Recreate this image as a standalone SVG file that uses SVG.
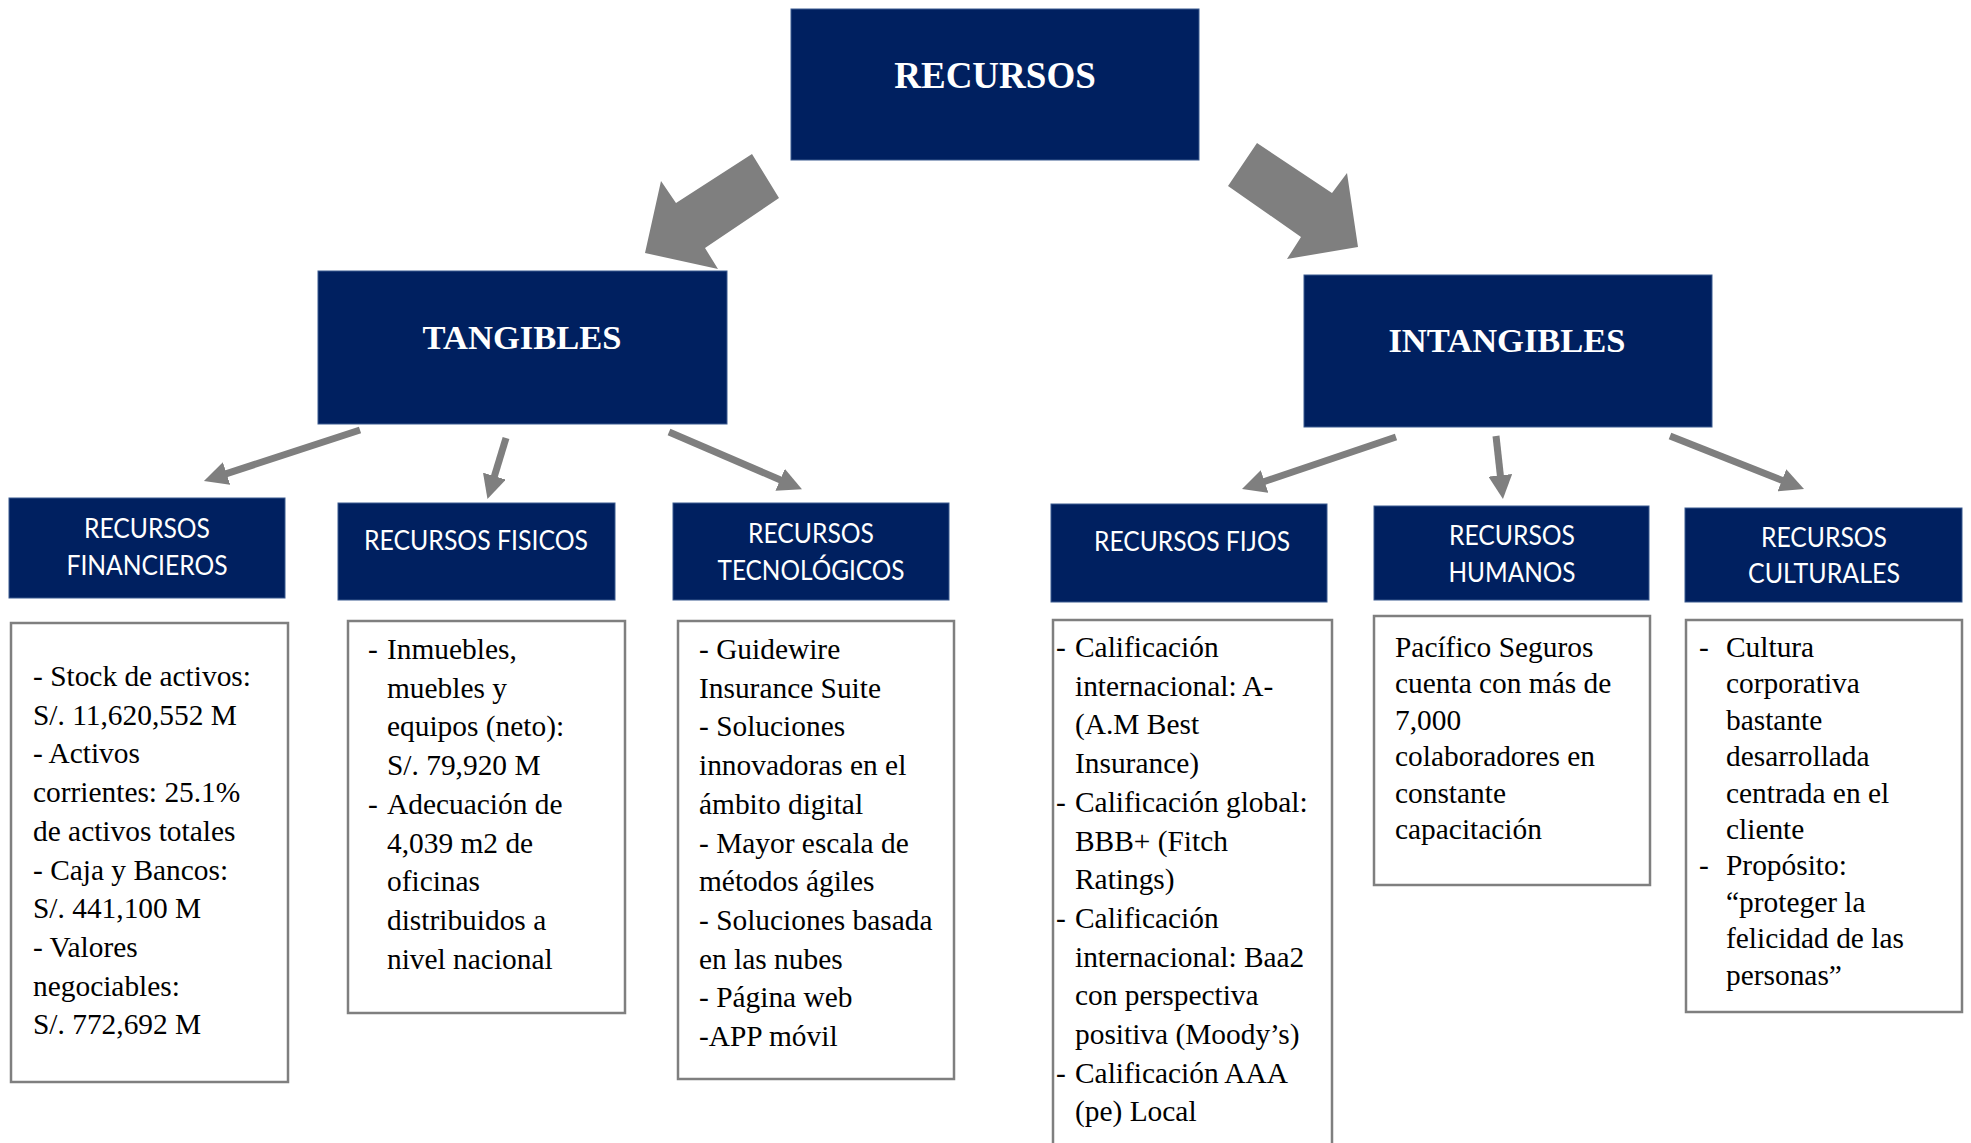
<svg xmlns="http://www.w3.org/2000/svg" width="1971" height="1143" viewBox="0 0 1971 1143">
<style>
.hdr{fill:#002060;stroke:#3a5a8f;stroke-width:1}
.ttl{font-family:"Liberation Serif","Times New Roman",serif;font-weight:bold;fill:#ffffff;text-anchor:middle}
.sub{font-family:Lato,"Open Sans",sans-serif;font-size:26px;fill:#ffffff;text-anchor:middle}
.box{fill:#ffffff;stroke:#7f7f7f;stroke-width:2.5}
.body{font-family:"Liberation Serif","Times New Roman",serif;font-size:29.4px;fill:#000000}
.big{fill:#7f7f7f}
.sm{stroke:#7f7f7f;stroke-width:7;fill:none;marker-end:url(#ah)}
</style>
<defs>
<marker id="ah" viewBox="0 0 10 10" markerWidth="3.4" markerHeight="3.4" refX="1" refY="5" orient="auto" markerUnits="strokeWidth">
<path d="M0,0 L10,5 L0,10 z" fill="#7f7f7f"/>
</marker>
</defs>
<rect width="1971" height="1143" fill="#ffffff"/>

<g id="connectors">
<polygon class="big" points="752,154 779,198 705,248 718,269 645,253 661,181 676,203"/>
<polygon class="big" points="1257,143 1228,186 1301,237 1287,259 1358,247 1347,173 1332,193"/>
<line class="sm" x1="360" y1="430" x2="224.3" y2="474.3"/>
<line class="sm" x1="506" y1="438" x2="493.7" y2="478.4"/>
<line class="sm" x1="669" y1="432" x2="782.3" y2="480.7"/>
<line class="sm" x1="1396" y1="437" x2="1262.3" y2="482.2"/>
<line class="sm" x1="1496" y1="436" x2="1500.6" y2="477.7"/>
<line class="sm" x1="1670" y1="436" x2="1784.1" y2="481.2"/>
</g>

<g id="recursos">
<rect class="hdr" x="791" y="9" width="408" height="151"/>
<text class="ttl" x="995" y="88" font-size="37">RECURSOS</text>
</g>
<g id="tangibles">
<rect class="hdr" x="318" y="271" width="409" height="153"/>
<text class="ttl" x="522" y="349" font-size="34.5">TANGIBLES</text>
</g>
<g id="intangibles">
<rect class="hdr" x="1304" y="275" width="408" height="152"/>
<text class="ttl" x="1507" y="352" font-size="34.5">INTANGIBLES</text>
</g>

<g id="rec-financieros">
<rect class="hdr" x="9" y="498" width="276" height="100"/>
<text class="sub" x="147" y="538" textLength="126" lengthAdjust="spacingAndGlyphs">RECURSOS</text>
<text class="sub" x="147" y="575" textLength="161" lengthAdjust="spacingAndGlyphs">FINANCIEROS</text>
</g>
<g id="rec-fisicos">
<rect class="hdr" x="338" y="503" width="277" height="97"/>
<text class="sub" x="476" y="550" textLength="224" lengthAdjust="spacingAndGlyphs">RECURSOS FISICOS</text>
</g>
<g id="rec-tecnologicos">
<rect class="hdr" x="673" y="503" width="276" height="97"/>
<text class="sub" x="811" y="543" textLength="126" lengthAdjust="spacingAndGlyphs">RECURSOS</text>
<text class="sub" x="811" y="580" textLength="187" lengthAdjust="spacingAndGlyphs">TECNOLÓGICOS</text>
</g>
<g id="rec-fijos">
<rect class="hdr" x="1051" y="504" width="276" height="98"/>
<text class="sub" x="1192" y="551" textLength="196" lengthAdjust="spacingAndGlyphs">RECURSOS FIJOS</text>
</g>
<g id="rec-humanos">
<rect class="hdr" x="1374" y="506" width="275" height="94"/>
<text class="sub" x="1512" y="545" textLength="126" lengthAdjust="spacingAndGlyphs">RECURSOS</text>
<text class="sub" x="1512" y="582" textLength="127" lengthAdjust="spacingAndGlyphs">HUMANOS</text>
</g>
<g id="rec-culturales">
<rect class="hdr" x="1685" y="508" width="277" height="94"/>
<text class="sub" x="1824" y="547" textLength="126" lengthAdjust="spacingAndGlyphs">RECURSOS</text>
<text class="sub" x="1824" y="583" textLength="152" lengthAdjust="spacingAndGlyphs">CULTURALES</text>
</g>

<g id="det-financieros">
<rect class="box" x="11" y="623" width="277" height="459"/>
<text class="body">
<tspan x="33" y="686">- Stock de activos:</tspan>
<tspan x="33" y="724.7">S/. 11,620,552 M</tspan>
<tspan x="33" y="763.4">- Activos</tspan>
<tspan x="33" y="802.1">corrientes: 25.1%</tspan>
<tspan x="33" y="840.8">de activos totales</tspan>
<tspan x="33" y="879.5">- Caja y Bancos:</tspan>
<tspan x="33" y="918.2">S/. 441,100 M</tspan>
<tspan x="33" y="956.9">- Valores</tspan>
<tspan x="33" y="995.6">negociables:</tspan>
<tspan x="33" y="1034.3">S/. 772,692 M</tspan>
</text>
</g>

<g id="det-fisicos">
<rect class="box" x="348" y="621" width="277" height="392"/>
<text class="body">
<tspan x="368" y="659">-</tspan><tspan x="387" y="659">Inmuebles,</tspan>
<tspan x="387" y="697.7">muebles y</tspan>
<tspan x="387" y="736.4">equipos (neto):</tspan>
<tspan x="387" y="775.1">S/. 79,920 M</tspan>
<tspan x="368" y="813.8">-</tspan><tspan x="387" y="813.8">Adecuación de</tspan>
<tspan x="387" y="852.5">4,039 m2 de</tspan>
<tspan x="387" y="891.2">oficinas</tspan>
<tspan x="387" y="929.9">distribuidos a</tspan>
<tspan x="387" y="968.6">nivel nacional</tspan>
</text>
</g>

<g id="det-tecnologicos">
<rect class="box" x="678" y="621" width="276" height="458"/>
<text class="body">
<tspan x="699" y="659">- Guidewire</tspan>
<tspan x="699" y="697.7">Insurance Suite</tspan>
<tspan x="699" y="736.4">- Soluciones</tspan>
<tspan x="699" y="775.1">innovadoras en el</tspan>
<tspan x="699" y="813.8">ámbito digital</tspan>
<tspan x="699" y="852.5">- Mayor escala de</tspan>
<tspan x="699" y="891.2">métodos ágiles</tspan>
<tspan x="699" y="929.9">- Soluciones basada</tspan>
<tspan x="699" y="968.6">en las nubes</tspan>
<tspan x="699" y="1007.3">- Página web</tspan>
<tspan x="699" y="1046">-APP móvil</tspan>
</text>
</g>

<g id="det-fijos">
<rect class="box" x="1053" y="620" width="279" height="540"/>
<text class="body">
<tspan x="1056" y="657">-</tspan><tspan x="1075" y="657">Calificación</tspan>
<tspan x="1075" y="695.7">internacional: A-</tspan>
<tspan x="1075" y="734.4">(A.M Best</tspan>
<tspan x="1075" y="773.1">Insurance)</tspan>
<tspan x="1056" y="811.8">-</tspan><tspan x="1075" y="811.8">Calificación global:</tspan>
<tspan x="1075" y="850.5">BBB+ (Fitch</tspan>
<tspan x="1075" y="889.2">Ratings)</tspan>
<tspan x="1056" y="927.9">-</tspan><tspan x="1075" y="927.9">Calificación</tspan>
<tspan x="1075" y="966.6">internacional: Baa2</tspan>
<tspan x="1075" y="1005.3">con perspectiva</tspan>
<tspan x="1075" y="1044">positiva (Moody’s)</tspan>
<tspan x="1056" y="1082.7">-</tspan><tspan x="1075" y="1082.7">Calificación AAA</tspan>
<tspan x="1075" y="1121.4">(pe) Local</tspan>
</text>
</g>

<g id="det-humanos">
<rect class="box" x="1374" y="616" width="276" height="269"/>
<text class="body">
<tspan x="1395" y="657">Pacífico Seguros</tspan>
<tspan x="1395" y="693.4">cuenta con más de</tspan>
<tspan x="1395" y="729.8">7,000</tspan>
<tspan x="1395" y="766.2">colaboradores en</tspan>
<tspan x="1395" y="802.6">constante</tspan>
<tspan x="1395" y="839">capacitación</tspan>
</text>
</g>

<g id="det-culturales">
<rect class="box" x="1686" y="620" width="276" height="392"/>
<text class="body">
<tspan x="1699" y="657">-</tspan><tspan x="1726" y="657">Cultura</tspan>
<tspan x="1726" y="693.4">corporativa</tspan>
<tspan x="1726" y="729.8">bastante</tspan>
<tspan x="1726" y="766.2">desarrollada</tspan>
<tspan x="1726" y="802.6">centrada en el</tspan>
<tspan x="1726" y="839">cliente</tspan>
<tspan x="1699" y="875.4">-</tspan><tspan x="1726" y="875.4">Propósito:</tspan>
<tspan x="1726" y="911.8">“proteger la</tspan>
<tspan x="1726" y="948.2">felicidad de las</tspan>
<tspan x="1726" y="984.6">personas”</tspan>
</text>
</g>
</svg>
